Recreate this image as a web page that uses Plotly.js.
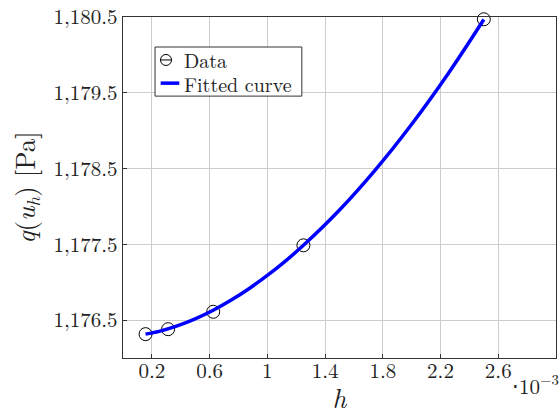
<!DOCTYPE html>
<html>
<head>
<meta charset="utf-8">
<script src="https://cdn.plot.ly/plotly-3.0.1.min.js"></script>
<style>html,body{margin:0;padding:0;background:#fff;}#chart{width:560px;height:416px;}</style>
</head>
<body>
<div id="chart"></div>
<script>
// h values in units of 1e-3
const dataH = [0.15625, 0.3125, 0.625, 1.25, 2.5];
const dataQ = [1176.315, 1176.38, 1176.61, 1177.487, 1180.47];

// fitted curve, values
const fitH = [0.15625, 0.25, 0.375, 0.5, 0.625, 0.75, 0.875, 1.0, 1.125, 1.25, 1.5, 1.75, 2.0, 2.25, 2.5];
const fitQ = [1176.315, 1176.352, 1176.424, 1176.517, 1176.631, 1176.765, 1176.918, 1177.09, 1177.279, 1177.487, 1177.953, 1178.486, 1179.084, 1179.745, 1180.467];

const xTickVals = [0.2, 0.6, 1, 1.4, 1.8, 2.2, 2.6];
const xTickText = ['0.2', '0.6', '1', '1.4', '1.8', '2.2', '2.6'];
const yTickVals = [1176.5, 1177.5, 1178.5, 1179.5, 1180.5];
const legendNames = ['Data', 'Fitted curve'];

const serif = 'Latin Modern Roman';
const txt = '#222';

const traces = [
  {
    x: dataH, y: dataQ, name: legendNames[0], mode: 'markers', type: 'scatter',
    marker: {symbol: 'circle-open', size: 13, color: '#000', line: {width: 1, color: '#000'}},
    cliponaxis: false, showlegend: false
  },
  {
    x: fitH, y: fitQ, name: legendNames[1], mode: 'lines', type: 'scatter',
    line: {color: '#0000ff', width: 3.5, shape: 'spline'}, showlegend: false
  }
];

// hand-built legend (pgfplots style)
const legX0 = 0.074, legX1 = 0.413, legY0 = 0.768, legY1 = 0.912;
const row1 = 0.874, row2 = 0.806;
const symX = 0.0993, lineX0 = 0.087, lineX1 = 0.130, textX = 0.137;

const shapes = [
  {type: 'rect', xref: 'paper', yref: 'paper', x0: legX0, x1: legX1, y0: legY0, y1: legY1,
   fillcolor: '#fff', line: {color: '#333', width: 1}, layer: 'above'},
  {type: 'circle', xref: 'paper', yref: 'paper', xsizemode: 'pixel', ysizemode: 'pixel',
   xanchor: symX, yanchor: row1, x0: -5.5, x1: 5.5, y0: -5.5, y1: 5.5,
   line: {color: '#000', width: 1}, layer: 'above'},
  {type: 'line', xref: 'paper', yref: 'paper', xsizemode: 'pixel', ysizemode: 'pixel',
   xanchor: symX, yanchor: row1, x0: -5.5, x1: 5.5, y0: 0, y1: 0,
   line: {color: '#000', width: 1}, layer: 'above'},
  {type: 'line', xref: 'paper', yref: 'paper', x0: lineX0, x1: lineX1, y0: row2, y1: row2,
   line: {color: '#0000ff', width: 3.5}, layer: 'above'}
];

const layout = {
  width: 560, height: 416,
  margin: {l: 123, r: 4, t: 17, b: 58},
  paper_bgcolor: '#fff', plot_bgcolor: '#fff',
  font: {family: serif, size: 21, color: txt},
  showlegend: false,
  xaxis: {
    range: [0, 3.0],
    tickvals: xTickVals, ticktext: xTickText,
    showgrid: true, gridcolor: '#cccccc', gridwidth: 1,
    zeroline: false,
    showline: true, linecolor: '#333', linewidth: 1.2, mirror: true,
    ticks: 'inside', ticklen: 4, tickcolor: '#333',
    ticklabelstandoff: -6,
    tickfont: {family: serif, size: 21, color: txt},
    title: {text: '<i>h</i>', font: {family: serif, size: 27, color: txt}, standoff: 12}
  },
  yaxis: {
    range: [1176.0, 1180.5],
    tickvals: yTickVals, tickformat: ',.1f',
    showgrid: true, gridcolor: '#cccccc', gridwidth: 1,
    zeroline: false,
    showline: true, linecolor: '#333', linewidth: 1.2, mirror: true,
    ticks: 'inside', ticklen: 4, tickcolor: '#333',
    tickfont: {family: serif, size: 21, color: txt},
    title: {text: '<i>q</i>(<i>u</i><sub><i>h</i></sub>) [Pa]', font: {family: serif, size: 27, color: txt}, standoff: 10}
  },
  shapes: shapes,
  annotations: [
    {xref: 'paper', yref: 'paper', x: textX, y: row1, xanchor: 'left', yanchor: 'middle',
     text: legendNames[0], showarrow: false, font: {family: serif, size: 20, color: txt}},
    {xref: 'paper', yref: 'paper', x: textX, y: row2, xanchor: 'left', yanchor: 'middle',
     text: legendNames[1], showarrow: false, font: {family: serif, size: 20, color: txt}},
    {xref: 'paper', yref: 'paper', x: 1.012, y: -0.022, xanchor: 'right', yanchor: 'top',
     text: '⋅10<sup>−3</sup>', showarrow: false,
     font: {family: serif, size: 21, color: txt}}
  ]
};

Plotly.newPlot('chart', traces, layout, {displayModeBar: false, staticPlot: true});
</script>
</body>
</html>
